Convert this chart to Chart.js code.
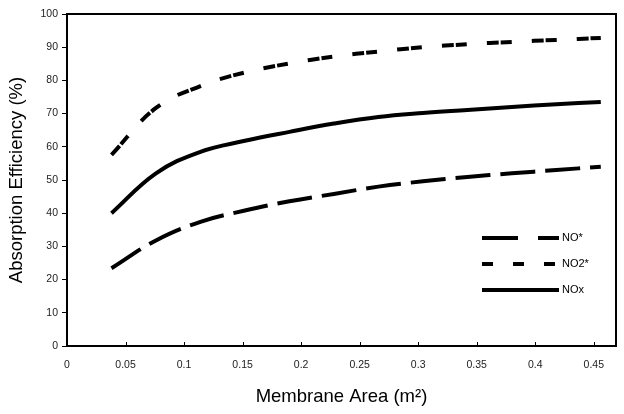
<!DOCTYPE html>
<html>
<head>
<meta charset="utf-8">
<script src="https://cdn.jsdelivr.net/npm/chart.js@4"></script>
<style>
    body { margin: 0; background: #fff; }
    #wrap { width: 624px; height: 414px; }
</style>
</head>
<body>
<div id="wrap"><canvas id="chart"></canvas></div>
<script>
const area = [0.038, 0.076, 0.114, 0.152, 0.19, 0.228, 0.266, 0.304, 0.342, 0.38, 0.418, 0.456];
const noStar = [23.4, 31.8, 37.4, 40.8, 43.6, 45.8, 48.0, 49.6, 50.9, 52.0, 53.0, 54.0];
const no2Star = [57.6, 71.7, 78.3, 82.4, 85.1, 87.2, 88.7, 90.0, 90.9, 91.6, 92.2, 92.8];
const nox = [40.0, 52.0, 58.5, 61.8, 64.5, 67.0, 69.0, 70.2, 71.1, 72.0, 72.8, 73.5];
const seriesNames = ['NO*', 'NO2*', 'NOx'];

const FONT = "'Liberation Sans', Arial, sans-serif";

function pts(ys) {
    return area.map((x, i) => ({ x: x, y: ys[i] }));
}

// frame, inward x ticks and the legend box inside the plot
const extras = {
    id: 'extras',
    afterDraw(chart) {
        const ctx = chart.ctx;
        const a = chart.chartArea;
        const xs = chart.scales.x;
        ctx.save();
        ctx.strokeStyle = '#000';
        ctx.lineWidth = 2;
        ctx.strokeRect(a.left, a.top, a.right - a.left, a.bottom - a.top);

        ctx.lineWidth = 1;
        xs.ticks.forEach((t) => {
            const px = Math.round(xs.getPixelForValue(t.value)) + 0.5;
            ctx.beginPath();
            ctx.moveTo(px, a.bottom);
            ctx.lineTo(px, a.bottom - 4);
            ctx.stroke();
        });

        const legendDash = [[36, 20], [11, 20], []];
        const rowY = [238, 264, 290];
        ctx.font = '11px ' + FONT;
        ctx.fillStyle = '#000';
        ctx.textBaseline = 'middle';
        chart.data.datasets.forEach((ds, i) => {
            ctx.beginPath();
            ctx.lineWidth = 4;
            ctx.setLineDash(legendDash[i]);
            ctx.moveTo(482, rowY[i]);
            ctx.lineTo(559, rowY[i]);
            ctx.stroke();
            ctx.fillText(ds.label, 562, rowY[i]);
        });
        ctx.restore();
    },
};

new Chart(document.getElementById('chart'), {
    type: 'line',
    data: {
        datasets: [
            { label: seriesNames[0], data: pts(noStar), borderColor: '#000', borderWidth: 4, borderDash: [35, 10] },
            { label: seriesNames[1], data: pts(no2Star), borderColor: '#000', borderWidth: 4, borderDash: [12, 2, 11, 20] },
            { label: seriesNames[2], data: pts(nox), borderColor: '#000', borderWidth: 4 },
        ],
    },
    options: {
        responsive: true,
        maintainAspectRatio: false,
        animation: false,
        layout: { padding: { top: 14, right: 8, left: 0, bottom: 0 } },
        elements: {
            point: { radius: 0 },
            line: { tension: 0.4, fill: false },
        },
        plugins: {
            legend: { display: false },
            tooltip: { enabled: false },
        },
        scales: {
            x: {
                type: 'linear',
                min: 0,
                max: 0.469,
                grid: { display: false, drawTicks: false },
                border: { display: false },
                ticks: {
                    stepSize: 0.05,
                    includeBounds: false,
                    padding: 13,
                    maxRotation: 0,
                    color: '#222',
                    font: { family: FONT, size: 10.5 },
                    callback: (v) => String(Number(v.toFixed(2))),
                },
                title: {
                    display: true,
                    text: 'Membrane Area (m²)',
                    color: '#000',
                    font: { family: FONT, size: 18.5 },
                    padding: { top: 0, bottom: 6 },
                },
                afterFit: (s) => { s.height = 68; },
            },
            y: {
                min: 0,
                max: 100,
                grid: { display: true, drawOnChartArea: false, drawTicks: true, tickLength: 5, tickColor: '#000' },
                border: { display: false },
                ticks: {
                    stepSize: 10,
                    padding: 4,
                    color: '#222',
                    font: { family: FONT, size: 10.5 },
                },
                title: {
                    display: true,
                    text: 'Absorption Efficiency (%)',
                    color: '#000',
                    font: { family: FONT, size: 18.5 },
                    padding: { top: 6, bottom: 0 },
                },
                afterFit: (s) => { s.width = 67; },
            },
        },
    },
    plugins: [extras],
});
</script>
</body>
</html>
